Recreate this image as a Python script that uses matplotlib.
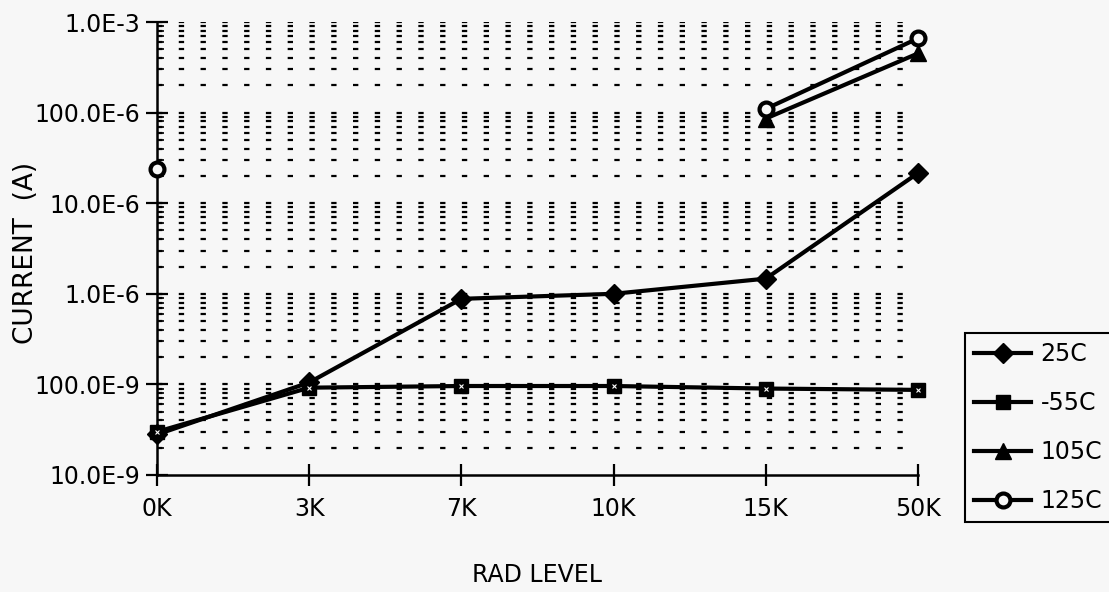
import numpy as np
import matplotlib
matplotlib.use("Agg")
import matplotlib.pyplot as plt
from matplotlib.ticker import LogLocator, FixedLocator, NullFormatter

categories = ["0K", "3K", "7K", "10K", "15K", "50K"]
c25 = [2.8e-8, 1.05e-7, 8.8e-7, 1.0e-6, 1.47e-6, 2.15e-5]
cm55 = [3.0e-8, 9.2e-8, 9.6e-8, 9.6e-8, 9.0e-8, 8.7e-8]
c105 = [np.nan, np.nan, np.nan, np.nan, 8.6e-5, 4.5e-4]
c125 = [2.4e-5, np.nan, np.nan, np.nan, 1.1e-4, 6.6e-4]
ytick_vals = [1e-8, 1e-7, 1e-6, 1e-5, 1e-4, 1e-3]
ytick_labels = ["10.0E-9", "100.0E-9", "1.0E-6", "10.0E-6", "100.0E-6", "1.0E-3"]

bg = "#f7f7f7"
W, H = 1109, 592
fig = plt.figure(figsize=(W / 100, H / 100), dpi=100, facecolor=bg)
ax = fig.add_axes([157 / W, 1 - 475 / H, (918 - 157) / W, (475 - 22) / H])
ax.set_facecolor(bg)

x = np.arange(len(categories))
ax.set_yscale("log")
ax.set_xlim(0, len(categories) - 1)
ax.set_ylim(1e-8, 1e-3)

# dotted horizontal grid at every log minor/major step
grid_vals = []
for dec in range(-8, -3):
    for m in range(1, 10):
        v = m * 10.0 ** dec
        if v > 1e-8:
            grid_vals.append(v)
grid_vals.append(1e-3)
for v in grid_vals:
    ax.axhline(v, color="black", lw=1.6, dashes=(2.4, 7.4), dash_capstyle="butt",
               zorder=1)

lw = 3.0
ax.plot(x, c25, color="black", lw=lw, marker="D", ms=10, mfc="black", mec="black",
        label="25C", zorder=3, clip_on=False)
ax.plot(x, cm55, color="black", lw=lw, marker="s", ms=10, mfc="black", mec="black",
        label="-55C", zorder=3, clip_on=False)
ax.plot(x, cm55, ls="none", marker="x", ms=3, mew=0.8, color="white", zorder=4,
        clip_on=False)
ax.plot(x, c105, color="black", lw=lw, marker="^", ms=11, mfc="black", mec="black",
        label="105C", zorder=3, clip_on=False)
ax.plot(x, c125, color="black", lw=lw, marker="o", ms=10, mfc=bg, mec="black",
        mew=3, label="125C", zorder=4, clip_on=False)

for s in ["top", "right"]:
    ax.spines[s].set_visible(False)
for s in ["left", "bottom"]:
    ax.spines[s].set_linewidth(1.8)

ax.set_xticks(x)
ax.set_xticklabels(categories, fontsize=17)
ax.tick_params(axis="x", direction="inout", length=16, width=1.6, pad=8)
ax.yaxis.set_major_locator(FixedLocator(ytick_vals))
ax.set_yticklabels(ytick_labels, fontsize=17)
ax.yaxis.set_minor_locator(LogLocator(base=10, subs=np.arange(2, 10)))
ax.yaxis.set_minor_formatter(NullFormatter())
ax.tick_params(axis="y", which="major", direction="inout", length=16, width=1.6, pad=4)
ax.tick_params(axis="y", which="minor", direction="in", length=5, width=1.2)

ax.set_xlabel("RAD LEVEL", fontsize=17, labelpad=30)
ax.set_ylabel("CURRENT  (A)", fontsize=19)
ax.yaxis.set_label_coords(-0.155, 0.49)

leg = fig.legend(loc="upper left", bbox_to_anchor=(965 / W, 1 - 333 / H),
                 borderaxespad=0,
                 fontsize=17, frameon=True, fancybox=False, edgecolor="black",
                 facecolor=bg, framealpha=1, handlelength=2.4, handletextpad=0.4,
                 labelspacing=1.05, borderpad=0.4)
leg.get_frame().set_linewidth(1.5)

fig.savefig("out.png", dpi=100, facecolor=bg)
